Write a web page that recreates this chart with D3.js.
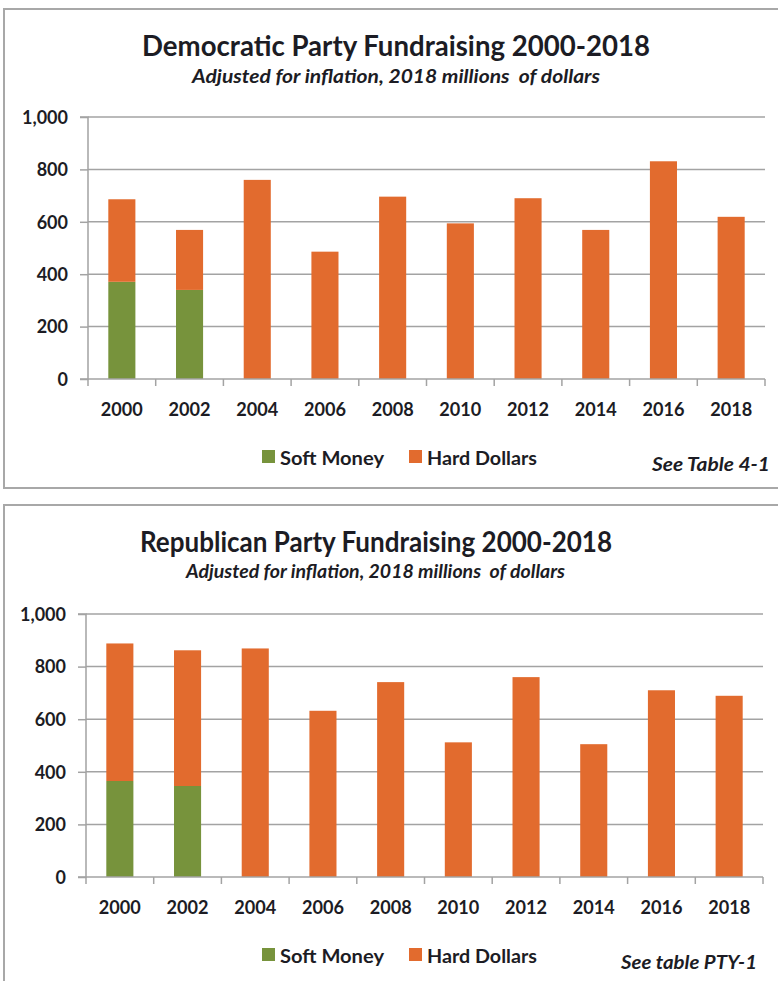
<!DOCTYPE html>
<html>
<head>
<meta charset="utf-8">
<script src="https://cdn.jsdelivr.net/npm/d3@7"></script>
<style>
  html, body { margin: 0; padding: 0; background: #fff; }
  svg { display: block; }
  text { font-family: Lato, "Open Sans", sans-serif; fill: #1c1c24; }
</style>
</head>
<body>
<svg id="chart" width="778" height="981"></svg>
<script>
// ---- data ----
const years = ["2000", "2002", "2004", "2006", "2008", "2010", "2012", "2014", "2016", "2018"];
const seriesNames = ["Soft Money", "Hard Dollars"];
const seriesColors = ["#77933C", "#E26B2E"];
const demSoft = [371, 340, 0, 0, 0, 0, 0, 0, 0, 0];
const demHard = [315, 229, 760, 486, 696, 594, 690, 569, 831, 619];
const repSoft = [365, 346, 0, 0, 0, 0, 0, 0, 0, 0];
const repHard = [523, 516, 869, 632, 741, 512, 760, 505, 710, 689];
const yTicks = [0, 200, 400, 600, 800, 1000];
const demTitle = "Democratic Party Fundraising 2000-2018";
const repTitle = "Republican Party Fundraising 2000-2018";
const subTitle = "Adjusted for inflation, 2018 millions  of dollars";
const demNote = "See Table 4-1";
const repNote = "See table PTY-1";

const svg = d3.select("#chart");
const gridColor = "#a3a3a3";

function drawChart(cfg) {
  const g = svg.append("g");
  // frame
  g.append("rect")
    .attr("x", cfg.frame[0]).attr("y", cfg.frame[1])
    .attr("width", cfg.frame[2]).attr("height", cfg.frame[3])
    .attr("fill", "#fff").attr("stroke", "#a8a8a8").attr("stroke-width", 2);

  // titles
  g.append("text").attr("x", cfg.titleX).attr("y", cfg.titleY)
    .attr("text-anchor", "middle").attr("font-size", 28).attr("font-weight", 700)
    .attr("textLength", cfg.titleW).attr("lengthAdjust", "spacingAndGlyphs")
    .text(cfg.title);
  g.append("text").attr("x", cfg.subX).attr("y", cfg.subY)
    .attr("text-anchor", "middle").attr("font-size", 18).attr("font-weight", 700)
    .attr("font-style", "italic")
    .attr("textLength", cfg.subW).attr("lengthAdjust", "spacingAndGlyphs")
    .style("white-space", "pre")
    .text(subTitle);

  const x = d3.scaleBand().domain(years).range([cfg.x0, cfg.x1]).paddingInner(0.6).paddingOuter(0.3);
  const xb = d3.scaleBand().domain(years).range([cfg.x0, cfg.x1]).padding(0);
  const y = d3.scaleLinear().domain([0, 1000]).range([cfg.yBot, cfg.yTop]);

  // gridlines
  g.append("g").selectAll("line").data(yTicks.filter(d => d > 0)).join("line")
    .attr("x1", cfg.x0).attr("x2", cfg.x1)
    .attr("y1", d => y(d)).attr("y2", d => y(d))
    .attr("stroke", gridColor).attr("stroke-width", 1.5);

  // y axis
  const yAxis = d3.axisLeft(y).tickValues(yTicks).tickSize(8).tickPadding(12)
    .tickFormat(d3.format(","));
  const ya = g.append("g").attr("transform", `translate(${cfg.x0},0)`).call(yAxis);
  ya.select(".domain").attr("stroke", gridColor).attr("stroke-width", 1.5)
    .attr("d", `M-8,${cfg.yTop}H0V${cfg.yBot}H-8`);
  ya.selectAll(".tick line").attr("stroke", gridColor).attr("stroke-width", 1.5);
  ya.selectAll(".tick text").attr("font-size", 18).attr("font-weight", 700)
    .attr("font-family", "Lato, sans-serif").attr("fill", "#1c1c24").attr("dy", "0.35em");

  // stacked bars
  const rows = years.map((yr, i) => ({ year: yr, "Soft Money": cfg.soft[i], "Hard Dollars": cfg.hard[i] }));
  const stack = d3.stack().keys(seriesNames)(rows);
  g.append("g").selectAll("g").data(stack).join("g")
    .attr("fill", (d, i) => seriesColors[i])
    .selectAll("rect").data(d => d.filter(p => p[1] - p[0] > 0)).join("rect")
    .attr("x", d => x(d.data.year)).attr("width", x.bandwidth())
    .attr("y", d => y(d[1])).attr("height", d => y(d[0]) - y(d[1]));

  // x axis
  const xa = g.append("g").attr("transform", `translate(0,${cfg.yBot})`);
  xa.append("line").attr("x1", cfg.x0).attr("x2", cfg.x1)
    .attr("stroke", gridColor).attr("stroke-width", 1.5);
  const bounds = years.map(d => xb(d)).concat([cfg.x1]);
  xa.selectAll("line.tk").data(bounds).join("line").attr("class", "tk")
    .attr("x1", d => d).attr("x2", d => d).attr("y1", 0).attr("y2", 7)
    .attr("stroke", gridColor).attr("stroke-width", 1.5);
  xa.selectAll("text").data(years).join("text")
    .attr("x", d => xb(d) + xb.bandwidth() / 2).attr("y", 36.5)
    .attr("text-anchor", "middle").attr("font-size", 18).attr("font-weight", 700)
    .attr("textLength", 42).attr("lengthAdjust", "spacingAndGlyphs")
    .text(d => d);

  // legend
  const lg = g.append("g");
  const legItems = [
    { name: seriesNames[0], color: seriesColors[0], sx: 262, tx: 280, tw: 104 },
    { name: seriesNames[1], color: seriesColors[1], sx: 409, tx: 427, tw: 110 }
  ];
  legItems.forEach(it => {
    lg.append("rect").attr("x", it.sx).attr("y", cfg.yBot + 71).attr("width", 13).attr("height", 13)
      .attr("fill", it.color);
    lg.append("text").attr("x", it.tx).attr("y", cfg.yBot + 86)
      .attr("font-size", 19).attr("font-weight", 700)
      .attr("textLength", it.tw).attr("lengthAdjust", "spacingAndGlyphs")
      .text(it.name);
  });

  // note
  g.append("text").attr("x", cfg.noteX).attr("y", cfg.noteY)
    .attr("font-size", 18).attr("font-weight", 700).attr("font-style", "italic")
    .attr("textLength", cfg.noteW).attr("lengthAdjust", "spacingAndGlyphs")
    .text(cfg.note);
}

drawChart({
  frame: [4, 9, 790, 479],
  title: demTitle, titleX: 396, titleY: 56, titleW: 508,
  subX: 396, subY: 83, subW: 408,
  x0: 88, x1: 765, yTop: 117, yBot: 379,
  soft: demSoft, hard: demHard,
  note: demNote, noteX: 652, noteY: 471, noteW: 118
});
drawChart({
  frame: [4, 505, 790, 500],
  title: repTitle, titleX: 376, titleY: 552, titleW: 472,
  subX: 375.5, subY: 578, subW: 379,
  x0: 86, x1: 763, yTop: 614, yBot: 877,
  soft: repSoft, hard: repHard,
  note: repNote, noteX: 621, noteY: 969, noteW: 136
});
</script>
</body>
</html>
